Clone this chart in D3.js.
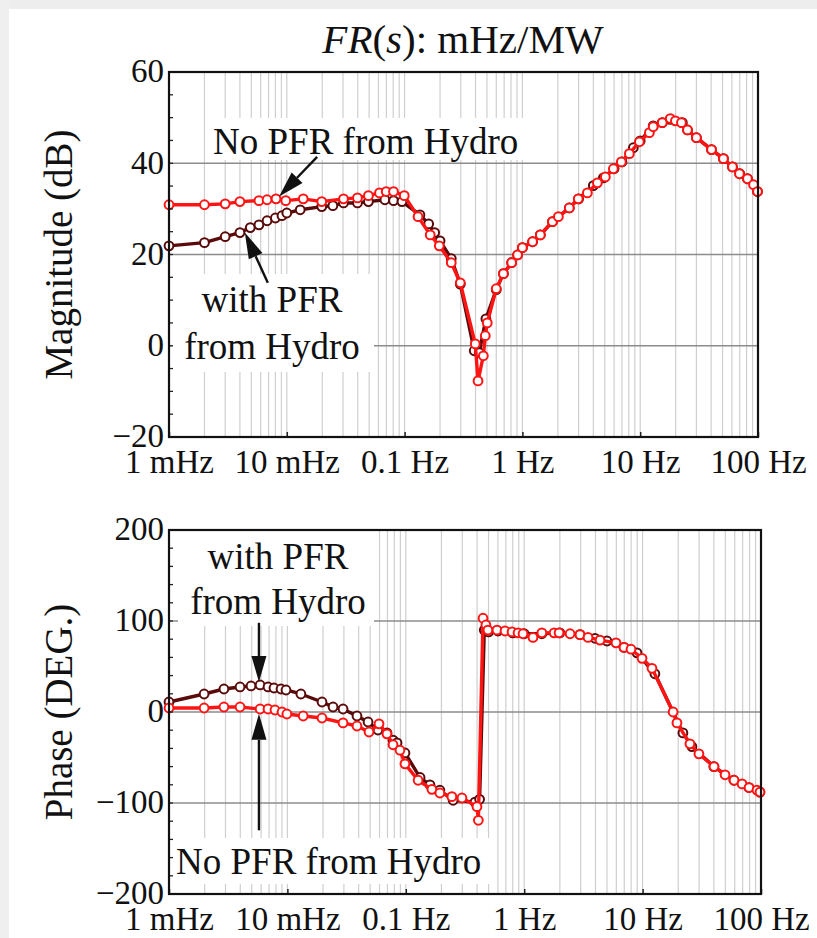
<!DOCTYPE html>
<meta charset="utf-8">
<style>
  body { margin: 0; background: #fff; }
  text { font-family: "Liberation Serif", "Times New Roman", serif; fill: #111; }
</style>
<body>
<div id="chart"></div>
</body>
<script src="https://cdn.jsdelivr.net/npm/d3@7"></script>
<script>
// ---- data ----
var xTickValues = [1e-3, 1e-2, 1e-1, 1, 10, 100];
var xTickLabels = ["1 mHz", "10 mHz", "0.1 Hz", "1 Hz", "10 Hz", "100 Hz"];
var magTicks = [-20, 0, 20, 40, 60];
var phaseTicks = [-200, -100, 0, 100, 200];

// magnitude, no PFR from hydro (red)
var magNoF = [0.001, 0.002, 0.003, 0.004, 0.0058, 0.0068, 0.0081, 0.0098, 0.0138, 0.0198, 0.0303, 0.0398, 0.0493, 0.0612, 0.0698, 0.0805, 0.0993,
  0.13, 0.165, 0.197, 0.249, 0.297, 0.398, 0.42, 0.466, 0.484, 0.503, 0.60, 0.69, 0.81, 0.91, 1.0, 1.22, 1.42, 1.80, 2.02, 2.5, 2.98, 3.56,
  4.33, 5.06, 5.92, 6.92, 8.09, 9.84, 11.97, 12.9, 15.4, 18.0, 19.9, 22.4, 25.2, 30.0, 40.3, 50.9, 60.7, 69.6, 81.4, 91.6, 99];
var magNo = [30.9, 30.9, 31.1, 31.6, 31.8, 32.0, 32.2, 31.8, 32.2, 31.6, 32.2, 32.4, 32.9, 33.5, 33.8, 33.8, 32.9,
  28.3, 24.3, 21.9, 18.2, 13.8, 0.4, -7.7, -2.2, 2.2, 5.0, 12.5, 15.8, 18.2, 19.9, 21.5, 22.8, 24.3, 27.2, 28.3, 30.2, 32.2, 33.5,
  35.7, 37.0, 38.8, 40.3, 42.1, 44.7, 46.7, 48.0, 48.9, 49.8, 49.3, 48.9, 47.3, 45.6, 43.0, 41.0, 39.2, 37.7, 36.6, 35.3, 33.8];

// magnitude, with PFR from hydro (dark)
var magWithF = [0.001, 0.002, 0.003, 0.004, 0.0049, 0.0058, 0.0068, 0.0080, 0.0091, 0.010, 0.013, 0.0198, 0.0246, 0.0303, 0.0398, 0.0493,
  0.068, 0.0805, 0.095, 0.135, 0.16, 0.18, 0.20, 0.249, 0.297, 0.39, 0.43, 0.49, 0.60, 0.69, 0.81, 0.91, 1.0, 1.22, 1.42, 1.80, 2.5, 3.0,
  4.0, 4.87, 6.0, 7.0, 8.75, 10.0, 12.9, 15.4, 18.0, 22.8, 25.2, 30.0, 40.3, 50.9, 60.7, 70, 81.4, 99];
var magWith = [21.9, 22.6, 23.9, 24.8, 25.9, 26.5, 27.4, 28.0, 28.5, 29.1, 29.8, 30.5, 30.7, 31.3, 31.3, 31.6,
  32.0, 31.8, 31.6, 28.7, 26.7, 24.8, 23.0, 19.1, 13.5, -1.1, -1.5, 5.9, 12.3, 15.8, 18.2, 19.9, 21.5, 22.8, 24.3, 27.2, 30.2, 32.2,
  35.1, 36.8, 38.8, 40.3, 43.4, 44.9, 48.2, 48.9, 49.6, 48.9, 47.3, 45.6, 43.0, 41.0, 39.2, 37.7, 36.6, 33.8];

// phase, no PFR from hydro (red)
var phNoF = [0.001, 0.00198, 0.00291, 0.00398, 0.00588, 0.00686, 0.00785, 0.0090, 0.0099, 0.0136, 0.0196, 0.0295, 0.0387, 0.0489, 0.0594,
  0.0693, 0.078, 0.0893, 0.0984, 0.127, 0.166, 0.194, 0.245, 0.298, 0.399, 0.41, 0.449, 0.475, 0.494, 0.589, 0.689, 0.789, 0.887, 0.977,
  1.186, 1.41, 1.79, 1.97, 2.44, 2.96, 3.46, 4.37, 5.96, 6.97, 7.98, 9.89, 12.0, 18.1, 19.5, 25.1, 29.9, 40.1, 49.7, 59.2, 69.2, 79.3, 92.5, 98];
var phNo = [4.4, 4.4, 5.5, 5.5, 3.3, 3.3, 2.2, 0, -2.2, -4.4, -6.6, -12, -15.4, -22, -13,
  -24, -36, -42, -57, -75, -85, -89, -93, -94.5, -104, -119, 103, 95.6, 90, 90, 89, 88, 87, 86,
  82, 87, 87, 87, 86, 85, 82, 79, 76, 71, 69, 59, 48, 0, -12, -35, -46, -60, -69, -75, -79, -83, -86, -88];

// phase, with PFR from hydro (dark)
var phWithF = [0.001, 0.00198, 0.00291, 0.00398, 0.00493, 0.00588, 0.00686, 0.0077, 0.00883, 0.00973, 0.013, 0.0196, 0.0243, 0.0295, 0.0387,
  0.048, 0.0582, 0.0693, 0.078, 0.0843, 0.0984, 0.132, 0.16, 0.194, 0.251, 0.384, 0.42, 0.46, 0.5, 0.6, 0.8, 1.0, 1.41, 2.0, 2.96, 3.96,
  5.0, 6.97, 8.97, 12.7, 21.9, 26.1, 40, 59, 79, 98];
var phWith = [11, 19.8, 25.3, 27.5, 28.6, 29.7, 27.5, 26.4, 25.3, 24.2, 19.8, 11, 5.5, 3.3, -4.4,
  -11, -19.8, -23, -30.8, -34, -45, -72, -80, -86, -97, -99, -96, 90, 88, 89, 87, 86, 86, 87, 85, 81,
  78, 71, 65, 42, -23, -38, -60, -75, -83, -88];

var colNo = "#ff1414", colWith = "#5a0a0a";

var width = 817, height = 938;
var svg = d3.select("#chart").append("svg")
    .attr("width", width)
    .attr("height", height);

// light grey frame at top / left edge
svg.append("rect").attr("x", 0).attr("y", 0).attr("width", width).attr("height", 9).attr("fill", "#ededed");
svg.append("rect").attr("x", 0).attr("y", 0).attr("width", 9).attr("height", height).attr("fill", "#efefef");

function zip(f, v) { return f.map(function(d, i) { return [d, v[i]]; }); }

function panel(p) {
    var x = d3.scaleLog().domain([1e-3, 100]).range([p.left, p.right]);
    var y = d3.scaleLinear().domain([p.yTicks[0], p.yTicks[p.yTicks.length - 1]]).range([p.bottom, p.top]);
    var g = svg.append("g");

    // minor vertical grid (1..9 x decade)
    var vgrid = [];
    for (var e = -3; e < 2; e++) for (var k = 1; k < 10; k++) vgrid.push(k * Math.pow(10, e));
    g.selectAll("line.vg").data(vgrid.slice(1)).enter().append("line")
        .attr("x1", function(d) { return x(d); }).attr("x2", function(d) { return x(d); })
        .attr("y1", p.top).attr("y2", p.bottom)
        .style("stroke", "#cfcfcf").style("stroke-width", 1.2);

    // major horizontal grid
    g.selectAll("line.hg").data(p.yTicks.slice(1, -1)).enter().append("line")
        .attr("x1", p.left).attr("x2", p.right)
        .attr("y1", function(d) { return y(d); }).attr("y2", function(d) { return y(d); })
        .style("stroke", "#8c8c8c").style("stroke-width", 1.6);

    // white boxes behind annotations
    p.boxes.forEach(function(b) {
        g.append("rect").attr("x", b[0]).attr("y", b[1]).attr("width", b[2]).attr("height", b[3]).attr("fill", "#fff");
    });

    var line = d3.line().x(function(d) { return x(d[0]); }).y(function(d) { return y(d[1]); });
    p.series.forEach(function(s) {
        var pts = zip(s.f, s.v);
        g.append("path").datum(pts).attr("d", line)
            .style("fill", "none").style("stroke", s.color).style("stroke-width", 3.4)
            .style("stroke-linejoin", "round");
        g.selectAll(null).data(pts).enter().append("circle")
            .attr("cx", function(d) { return x(d[0]); }).attr("cy", function(d) { return y(d[1]); })
            .attr("r", 4.4)
            .style("fill", "#fff").style("stroke", s.color).style("stroke-width", 2);
    });

    // axes: ticks inward, labels custom
    var xAxis = d3.axisBottom(x).tickValues(xTickValues).tickSize(-5).tickFormat(function(d, i) { return xTickLabels[i]; });
    var ax = g.append("g").attr("transform", "translate(0," + p.bottom + ")").call(xAxis);
    ax.select(".domain").remove();
    ax.selectAll("line").style("stroke", "#222").style("stroke-width", 1.5);
    ax.selectAll("text").attr("dy", null).attr("y", 36)
        .style("font-size", "33px").style("font-family", "Liberation Serif").style("fill", "#111");

    var minor = d3.range(p.yTicks[0], p.yTicks[p.yTicks.length - 1] + 0.001, p.minor);
    g.selectAll("line.ym").data(minor).enter().append("line")
        .attr("x1", p.left).attr("x2", p.left + 4)
        .attr("y1", function(d) { return y(d); }).attr("y2", function(d) { return y(d); })
        .style("stroke", "#222").style("stroke-width", 1.3);

    var yAxis = d3.axisLeft(y).tickValues(p.yTicks).tickSize(0).tickPadding(5)
        .tickFormat(function(d) { return d < 0 ? "\u2212" + Math.abs(d) : d; });
    var ay = g.append("g").attr("transform", "translate(" + p.left + ",0)").call(yAxis);
    ay.select(".domain").remove();
    ay.selectAll("text").attr("dy", "0.3em")
        .style("font-size", "33px").style("font-family", "Liberation Serif").style("fill", "#111");

    // frame
    g.append("rect").attr("x", p.left).attr("y", p.top)
        .attr("width", p.right - p.left).attr("height", p.bottom - p.top)
        .style("fill", "none").style("stroke", "#111").style("stroke-width", 2.2);

    // y label
    g.append("text")
        .attr("transform", "translate(" + p.labelX + "," + ((p.top + p.bottom) / 2) + ") rotate(-90)")
        .attr("text-anchor", "middle").attr("dy", "0.35em")
        .style("font-size", "39px").text(p.ylabel);

    // annotation text
    p.notes.forEach(function(n) {
        g.append("text").attr("x", n[0]).attr("y", n[1]).attr("text-anchor", n[3])
            .style("font-size", "37px").text(n[2]);
    });

    // arrows given in data coordinates [f0, v0, f1, v1] (tail -> tip)
    p.arrows.forEach(function(a) {
        var x0 = x(a[0]), y0 = y(a[1]), x1 = x(a[2]), y1 = y(a[3]);
        var ang = Math.atan2(y1 - y0, x1 - x0), L = 26, w = 7.5;
        var bx = x1 - L * Math.cos(ang), by = y1 - L * Math.sin(ang);
        g.append("line").attr("x1", x0).attr("y1", y0).attr("x2", bx).attr("y2", by)
            .style("stroke", "#111").style("stroke-width", 2.4);
        var nx = -Math.sin(ang) * w, ny = Math.cos(ang) * w;
        g.append("path")
            .attr("d", "M" + x1 + "," + y1 + "L" + (bx + nx) + "," + (by + ny) + "L" + (bx - nx) + "," + (by - ny) + "Z")
            .style("fill", "#111");
    });
    return g;
}

// title
var title = svg.append("text").attr("x", 463).attr("y", 53).attr("text-anchor", "middle").style("font-size", "41px");
title.append("tspan").style("font-style", "italic").text("FR");
title.append("tspan").text("(");
title.append("tspan").style("font-style", "italic").text("s");
title.append("tspan").text("): mHz/MW");

panel({
    left: 169, right: 758, top: 72, bottom: 437,
    yTicks: magTicks, minor: 5, labelX: 58, ylabel: "Magnitude (dB)",
    boxes: [[208, 118, 322, 42], [172, 274, 202, 98]],
    series: [
        { f: magWithF, v: magWith, color: colWith },
        { f: magNoF, v: magNo, color: colNo }
    ],
    notes: [[213, 154, "No PFR from Hydro", "start"], [272, 312, "with PFR", "middle"], [272, 359, "from Hydro", "middle"]],
    arrows: [[0.0181, 41.4, 0.0086, 32.7], [0.0069, 13.8, 0.0044, 24.8]]
});

panel({
    left: 169, right: 761, top: 530, bottom: 894,
    yTicks: phaseTicks, minor: 20, labelX: 58, ylabel: "Phase (DEG.)",
    boxes: [[178, 531, 196, 95], [172, 838, 320, 46]],
    series: [
        { f: phWithF, v: phWith, color: colWith },
        { f: phNoF, v: phNo, color: colNo }
    ],
    notes: [[278, 569, "with PFR", "middle"], [278, 614, "from Hydro", "middle"], [176, 874, "No PFR from Hydro", "start"]],
    arrows: [[0.00575, 98, 0.00575, 33], [0.00575, -130, 0.00575, -2]]
});
</script>
